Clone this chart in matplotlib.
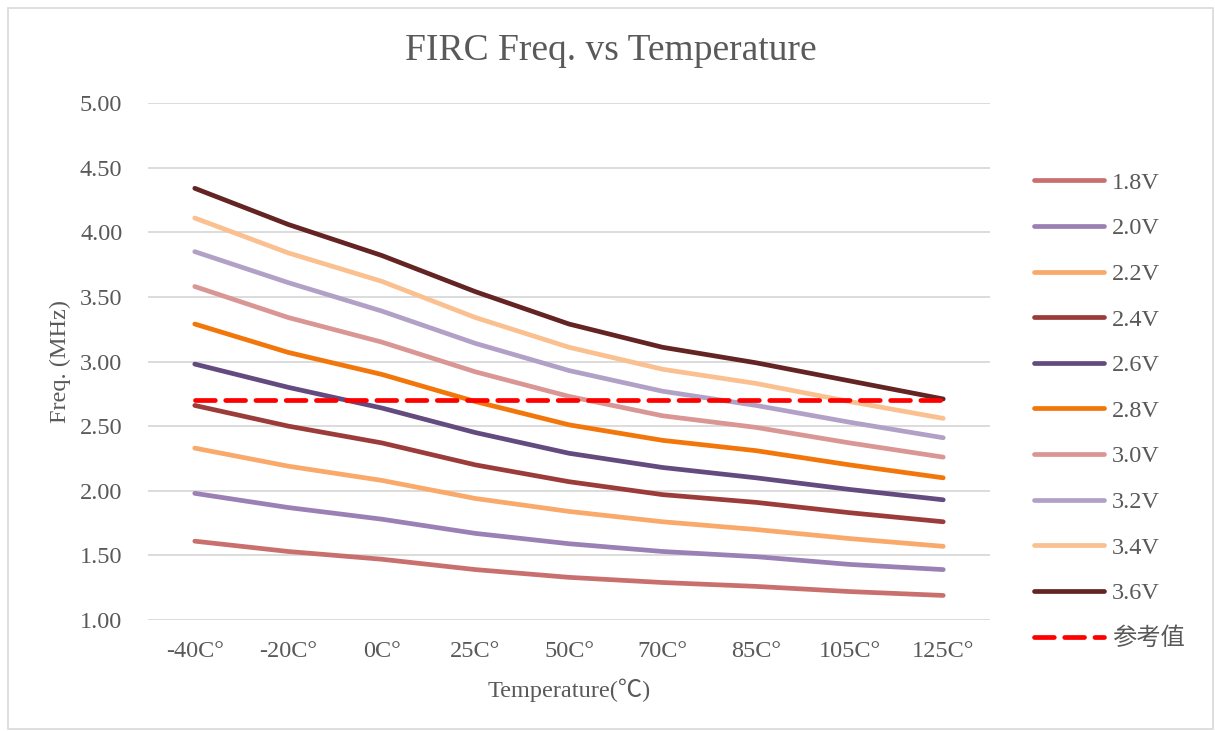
import matplotlib
matplotlib.use("Agg")
import matplotlib.pyplot as plt
from matplotlib.patches import Rectangle

categories = ["-40C°", "-20C°", "0C°", "25C°", "50C°", "70C°", "85C°", "105C°", "125C°"]
v18 = [1.61, 1.53, 1.47, 1.39, 1.33, 1.29, 1.26, 1.22, 1.19]
v20 = [1.98, 1.87, 1.78, 1.67, 1.59, 1.53, 1.49, 1.43, 1.39]
v22 = [2.33, 2.19, 2.08, 1.94, 1.84, 1.76, 1.70, 1.63, 1.57]
v24 = [2.66, 2.50, 2.37, 2.20, 2.07, 1.97, 1.91, 1.83, 1.76]
v26 = [2.98, 2.80, 2.64, 2.45, 2.29, 2.18, 2.10, 2.01, 1.93]
v28 = [3.29, 3.07, 2.90, 2.69, 2.51, 2.39, 2.31, 2.20, 2.10]
v30 = [3.58, 3.34, 3.15, 2.92, 2.73, 2.58, 2.49, 2.37, 2.26]
v32 = [3.85, 3.61, 3.39, 3.14, 2.93, 2.77, 2.66, 2.53, 2.41]
v34 = [4.11, 3.84, 3.62, 3.34, 3.11, 2.94, 2.83, 2.69, 2.56]
v36 = [4.34, 4.06, 3.82, 3.54, 3.29, 3.11, 2.99, 2.85, 2.71]
ref = [2.70] * 9
series_labels = ["1.8V", "2.0V", "2.2V", "2.4V", "2.6V", "2.8V", "3.0V", "3.2V", "3.4V", "3.6V"]
series_values = [v18, v20, v22, v24, v26, v28, v30, v32, v34, v36]
colors = ["#C9706F", "#9A80B5", "#F9A96A", "#9C3C3A", "#634B7F", "#F2760A",
          "#D99694", "#B2A1C7", "#FAC090", "#632423"]

plt.rcParams['font.family'] = ['Liberation Serif', 'Noto Sans CJK SC', 'DejaVu Sans']
txt = "#595959"
fs = 17.5

fig = plt.figure(figsize=(12.15, 7.31), dpi=100)
ax = fig.add_axes([148/1215, 1 - 620/731, (990-148)/1215, (620-103)/731])

x = list(range(len(categories)))
for lab, vals, c in zip(series_labels, series_values, colors):
    ax.plot(x, vals, color=c, lw=3.4, label=lab, solid_capstyle='round', solid_joinstyle='round')
ax.plot(x, ref, color="#FF0000", lw=3.4, ls=(0, (4.2, 2.2)), label="参考值", dash_capstyle='round')

ax.set_xlim(-0.5, len(categories) - 0.5)
ax.set_ylim(1.0, 5.0)
ax.set_yticks([1.0, 1.5, 2.0, 2.5, 3.0, 3.5, 4.0, 4.5, 5.0])
ax.set_yticklabels([f"{t:.2f}" for t in ax.get_yticks()])
ax.set_xticks(x)
ax.set_xticklabels(categories)
ax.tick_params(axis='both', length=0, labelsize=fs, labelcolor=txt)
ax.tick_params(axis='y', pad=18.5)
ax.tick_params(axis='x', pad=15)
ax.grid(axis='y', color="#D9D9D9", lw=1.3)
ax.set_axisbelow(True)
for s in ax.spines.values():
    s.set_visible(False)

ax.set_ylabel("Freq. (MHz)", fontsize=fs, color=txt, labelpad=6)
ax.set_xlabel("Temperature(℃)", fontsize=fs, color=txt, labelpad=12)
fig.text(611/1215, 1 - 51/731, "FIRC Freq. vs Temperature", ha='center', va='center',
         fontsize=27, color=txt)

leg = ax.legend(loc='upper left', bbox_to_anchor=(1012/1215, 1 - 150/731),
                bbox_transform=fig.transFigure, frameon=False, fontsize=fs,
                handlelength=2.9, handletextpad=0.3, labelspacing=0.97)
for t in leg.get_texts():
    t.set_color(txt)

fig.patches.append(Rectangle((8/1215, 2/731), 1205/1215, 721/731, transform=fig.transFigure,
                             fill=False, edgecolor="#D9D9D9", lw=1.2))

fig.savefig("out.png", dpi=100)
